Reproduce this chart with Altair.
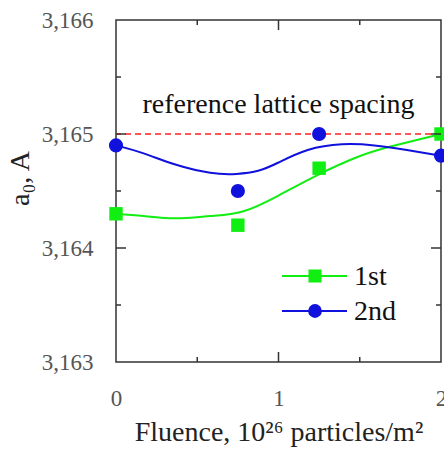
import altair as alt
import pandas as pd

# measured data
fluence = [0.0, 0.75, 1.25, 2.0]
first = [3.1643, 3.1642, 3.1647, 3.1650]
second = [3.1649, 3.1645, 3.1650, 3.16481]

# smooth fitted curves
fit1_x = [0.0, 0.17, 0.37, 0.58, 0.78, 1.0, 1.24, 1.49, 1.69, 2.0]
fit1_y = [3.16430, 3.16428, 3.16426, 3.16428, 3.16432, 3.16446, 3.16464, 3.16480, 3.16489, 3.16500]
fit2_x = [0.0, 0.17, 0.37, 0.58, 0.74, 0.88, 1.0, 1.18, 1.39, 1.59, 1.79, 2.0]
fit2_y = [3.16490, 3.16483, 3.16473, 3.16466, 3.16465, 3.16468, 3.16475, 3.16486, 3.16491, 3.16490, 3.16486, 3.16481]

ref_value = 3.165
ref_label = "reference lattice spacing"
ref_label_pos = (1.0, 3.16518)

y_ticks = [3.163, 3.164, 3.165, 3.166]
y_minor = [3.1635, 3.1645, 3.1655]
x_ticks = [0, 1, 2]
x_minor = [0.5, 1.5]

GREEN = "#11ee11"
BLUE = "#1111dd"
FONT = "Liberation Serif"
W, H = 325, 342

xs = alt.Scale(domain=[0, 2], nice=False, zero=False)
ys = alt.Scale(domain=[3.163, 3.166], nice=False, zero=False)

pts = pd.DataFrame({"x": fluence * 2, "y": first + second,
                    "s": ["1st"] * 4 + ["2nd"] * 4})
f1 = pd.DataFrame({"x": fit1_x, "y": fit1_y})
f2 = pd.DataFrame({"x": fit2_x, "y": fit2_y})

X = alt.X("x:Q", scale=xs, title="Fluence, 10²⁶ particles/m²",
          axis=alt.Axis(values=x_ticks, labelExpr="format(datum.value, 'd')",
                        ticks=False, domain=False, grid=False,
                        labelOverlap=False, labelFlush=False, labelBound=False,
                        labelPadding=25, titlePadding=8))
Y = alt.Y("y:Q", scale=ys, title="a₀, A",
          axis=alt.Axis(values=y_ticks, ticks=False, domain=False, grid=False,
                        labelOverlap=False, labelFlush=False, labelBound=False,
                        labelExpr="replace(format(datum.value, '.3f'), '.', ',')",
                        labelPadding=23, titleX=-96, titleY=158, titleAngle=270,
                        titleAlign="center", titleBaseline="middle"))

base = alt.Chart(pts)

line1 = alt.Chart(f1).mark_line(color=GREEN, strokeWidth=2, interpolate="natural").encode(x=X, y=Y)
line2 = alt.Chart(f2).mark_line(color=BLUE, strokeWidth=2, interpolate="natural").encode(x=X, y=Y)

sq = base.transform_filter("datum.s == '1st'").mark_point(
    shape="square", filled=True, size=180, color=GREEN, opacity=1).encode(x=X, y=Y)
ci = base.transform_filter("datum.s == '2nd'").mark_point(
    shape="circle", filled=True, size=200, color=BLUE, opacity=1).encode(x=X, y=Y)

ref = alt.Chart(pd.DataFrame({"y": [ref_value]})).mark_rule(
    color="#ff2020", strokeDash=[6, 4], strokeWidth=1.3).encode(y=Y)

txt = alt.Chart(pd.DataFrame({"x": [ref_label_pos[0]], "y": [ref_label_pos[1]], "t": [ref_label]})).mark_text(
    font=FONT, fontSize=28, color="#111", baseline="alphabetic", align="center").encode(
    x=X, y=Y, text="t:N")

# inward ticks
def yticks(vals, length):
    d = pd.DataFrame({"y": vals})
    l = alt.Chart(d).mark_rule(color="#333", strokeWidth=1.5).encode(
        y=Y, x=alt.value(0), x2=alt.value(length))
    r = alt.Chart(d).mark_rule(color="#333", strokeWidth=1.5).encode(
        y=Y, x=alt.value(W), x2=alt.value(W - length))
    return l + r

def xticks(vals, length):
    d = pd.DataFrame({"x": vals})
    b = alt.Chart(d).mark_rule(color="#333", strokeWidth=1.5).encode(
        x=X, y=alt.value(H), y2=alt.value(H - length))
    t = alt.Chart(d).mark_rule(color="#333", strokeWidth=1.5).encode(
        x=X, y=alt.value(0), y2=alt.value(length))
    return b + t

ticks = yticks([3.164, 3.165], 10) + yticks(y_minor, 5) + xticks([1], 10) + xticks(x_minor, 5)

# legend
leg_names = ["1st", "2nd"]
leg_colors = [GREEN, BLUE]
leg_shapes = ["square", "circle"]
leg_sizes = [170, 190]
leg_y = [256, 291]
legend = []
for name, col, shp, sz, yy in zip(leg_names, leg_colors, leg_shapes, leg_sizes, leg_y):
    d = pd.DataFrame({"t": [name]})
    legend.append(alt.Chart(d).mark_rule(color=col, strokeWidth=2).encode(
        x=alt.value(166), x2=alt.value(231), y=alt.value(yy)))
    legend.append(alt.Chart(d).mark_point(shape=shp, filled=True, size=sz, color=col, opacity=1).encode(
        x=alt.value(199), y=alt.value(yy)))
    legend.append(alt.Chart(d).mark_text(font=FONT, fontSize=28, color="#111", align="left",
                                         baseline="middle").encode(
        x=alt.value(238), y=alt.value(yy + 1), text="t:N"))

chart = alt.layer(line1, line2, ref, sq, ci, txt, ticks, *legend).properties(
    width=W, height=H, autosize="none",
    padding={"left": 116, "top": 20, "right": 3, "bottom": 90},
    background="white",
).configure_view(stroke="#333", strokeWidth=1.5).configure_axis(
    labelFont=FONT, labelFontSize=23, labelColor="#555",
    titleFont=FONT, titleFontSize=28, titleColor="#222", titleFontWeight="normal",
    labelOverlap=False,
)

chart.save("out.html", embed_options={"renderer": "svg", "actions": False})
